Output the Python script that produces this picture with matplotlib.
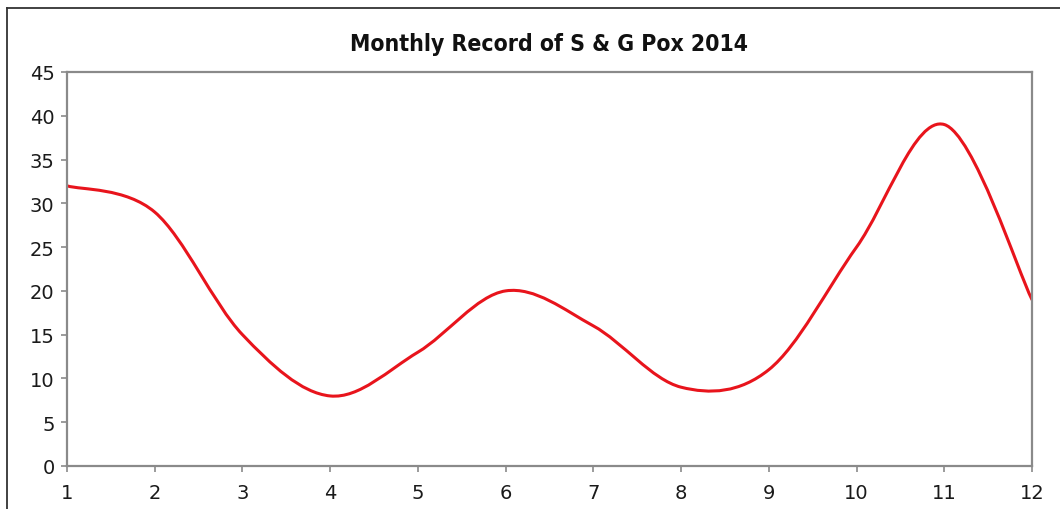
import matplotlib
matplotlib.use("Agg")
import matplotlib.pyplot as plt
from matplotlib.path import Path
from matplotlib.patches import PathPatch
from matplotlib.lines import Line2D
from matplotlib import font_manager as fm
import numpy as np

title = "Monthly Record of S & G Pox 2014"
months = [1, 2, 3, 4, 5, 6, 7, 8, 9, 10, 11, 12]
cases = [32, 29, 15, 8, 13, 20, 16, 9, 11, 25, 39, 19]
yticks = [0, 5, 10, 15, 20, 25, 30, 35, 40, 45]


def smooth_path(xs, ys):
    """Excel-style smoothed line: Catmull-Rom segments as cubic Beziers."""
    pts = np.column_stack([xs, ys]).astype(float)
    n = len(pts)
    verts = [tuple(pts[0])]
    codes = [Path.MOVETO]
    for i in range(n - 1):
        p0 = pts[i - 1] if i > 0 else pts[i]
        p1 = pts[i]
        p2 = pts[i + 1]
        p3 = pts[i + 2] if i + 2 < n else pts[i + 1]
        c1 = p1 + (p2 - p0) / 6.0
        c2 = p2 - (p3 - p1) / 6.0
        verts += [tuple(c1), tuple(c2), tuple(p2)]
        codes += [Path.CURVE4] * 3
    return Path(verts, codes)


# pick a condensed bold face for the title if one is installed
title_font = None
for f in fm.fontManager.ttflist:
    name = f.fname.lower()
    if "dejavusanscondensed-bold." in name.replace("_", ""):
        title_font = f.fname
        break
if title_font is None:
    for f in fm.fontManager.ttflist:
        if "narrow" in f.name.lower() and f.weight in (700, "bold"):
            title_font = f.fname
            break

fig = plt.figure(figsize=(10.6, 5.1), dpi=100)
fig.patch.set_facecolor("white")

# outer frame (left and top visible, cut at right/bottom)
fx = 7 / 1060
fy = 1 - 9 / 510
fig.add_artist(Line2D([fx, fx], [0, fy], transform=fig.transFigure,
                      color="#333333", lw=1.3))
fig.add_artist(Line2D([fx, 1.0], [fy, fy], transform=fig.transFigure,
                      color="#333333", lw=1.3))

ax = fig.add_axes([67 / 1060, 43 / 510, 965 / 1060, 394 / 510])
ax.set_xlim(months[0], months[-1])
ax.set_ylim(yticks[0], yticks[-1])

path = smooth_path(months, cases)
ax.add_patch(PathPatch(path, facecolor="none", edgecolor="#e8141c",
                       lw=2.2, capstyle="round", joinstyle="round"))

ax.set_xticks(months)
ax.set_yticks(yticks)
ax.set_xticklabels([str(m) for m in months])
ax.set_yticklabels([str(v) for v in yticks])

for s in ax.spines.values():
    s.set_color("#8a8a8a")
    s.set_linewidth(1.6)

ax.tick_params(axis="both", direction="out", length=4, width=1.2,
               color="#8a8a8a", labelcolor="#1a1a1a", labelsize=14)
ax.tick_params(axis="y", pad=5)
ax.tick_params(axis="x", pad=8)
for lab in ax.get_xticklabels() + ax.get_yticklabels():
    lab.set_family("DejaVu Sans")

if title_font is not None:
    tprops = dict(fontproperties=fm.FontProperties(fname=title_font, size=16.5))
else:
    tprops = dict(fontsize=15, fontweight="bold", family="DejaVu Sans")
fig.text((67 + 1032) / 2 / 1060, 1 - 44 / 510, title,
         ha="center", va="center", color="#111111", **tprops)

fig.savefig("out.png", dpi=100)
